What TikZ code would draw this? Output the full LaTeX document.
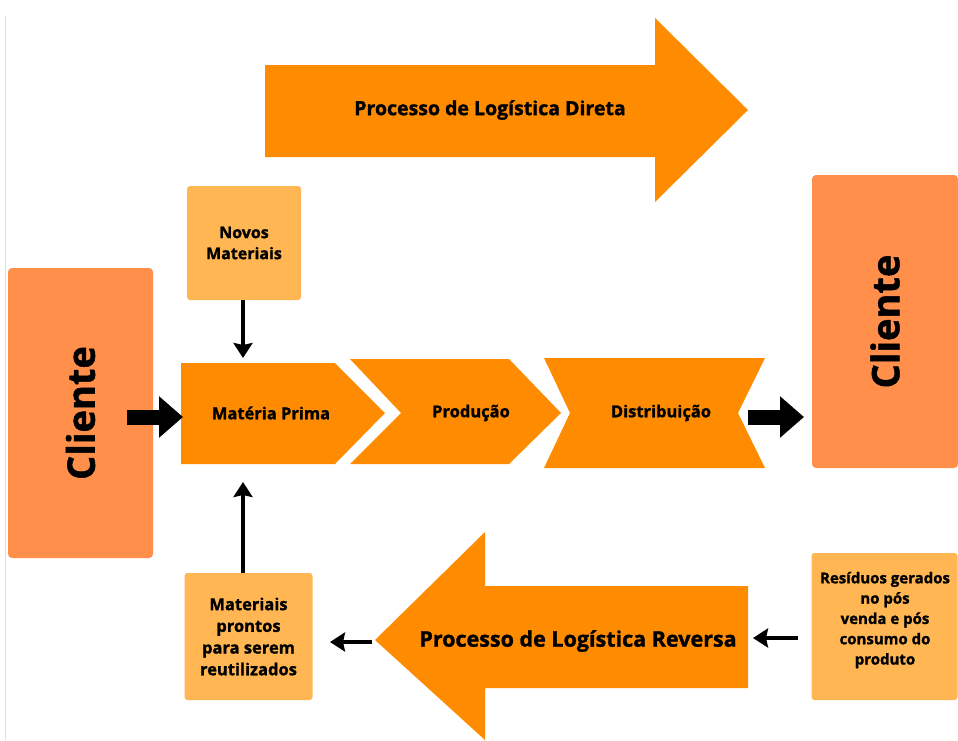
\documentclass[tikz,border=0pt]{standalone}
\usepackage{fontspec}
\setmainfont{Open Sans}[BoldFeatures={FakeBold=1.3}]
\usetikzlibrary{arrows.meta}
\definecolor{mainor}{HTML}{FF8C00}
\definecolor{lightor}{HTML}{FFB653}
\definecolor{clior}{HTML}{FF8F4B}
\tikzset{
  lbox/.style={fill=lightor, rounded corners=3pt, draw=none, inner sep=0pt, align=center, font=\bfseries\fontsize{16}{21}\selectfont},
  clibox/.style={fill=clior, rounded corners=4pt, draw=none, inner sep=0pt},
  clitext/.style={font=\bfseries\fontsize{38}{44}\selectfont, rotate=90, inner sep=0pt},
  shapefill/.style={fill=mainor, draw=none},
  lbl/.style={font=\bfseries\fontsize{16.5}{20}\selectfont, inner sep=0pt},
  thin arrow/.style={line width=3.6pt, -{Stealth[length=15pt,width=19pt,inset=2pt]}},
  thick arrow/.style={line width=15pt, -{Triangle[length=24pt,width=40pt]}},
}
\begin{document}
\begin{tikzpicture}[x=1pt,y=-1pt]
\useasboundingbox (0,0) rectangle (958,740);
\draw[black!12, line width=1pt] (5,16) -- (5,740);
% top arrow
\fill[shapefill] (265,65) -- (655,65) -- (655,18) -- (748,110) -- (655,202) -- (655,157) -- (265,157) -- cycle;
\node[lbl, font=\bfseries\fontsize{19.5}{22}\selectfont] (direta) at (490,110) {Processo de Logística Direta};
% reverse arrow
\fill[shapefill] (748,586) -- (485,586) -- (485,532) -- (375,640) -- (485,740) -- (485,688) -- (748,688) -- cycle;
\node[lbl, font=\bfseries\fontsize{21.5}{24}\selectfont] (reversa) at (578,641) {Processo de Logística Reversa};
% clientes
\node[clibox, minimum width=145pt, minimum height=290pt] (cl1) at (80.5,413) {};
\node[clitext] (cl1t) at (cl1.center) {Cliente};
\node[clibox, minimum width=146pt, minimum height=293pt] (cl2) at (885,321.5) {};
\node[clitext] (cl2t) at (cl2.center) {Cliente};
% process chevrons
\fill[shapefill] (181,363) -- (335,363) -- (385,413) -- (335,464) -- (181,464) -- cycle;
\node[lbl] (mp) at (271,413) {Matéria Prima};
\fill[shapefill] (350,359) -- (509,359) -- (561,413) -- (509,464) -- (350,464) -- (401,413) -- cycle;
\node[lbl] (prod) at (471,413) {Produção};
\fill[shapefill] (544,358) -- (765,358) -- (738,413) -- (765,468) -- (544,468) -- (570,413) -- cycle;
\node[lbl] (dist) at (661,413) {Distribuição};
% boxes
\node[lbox, minimum width=114pt, minimum height=114pt] (novos) at (244,243) {Novos\\Materiais};
\node[lbox, minimum width=128pt, minimum height=127pt, font=\bfseries\fontsize{16.5}{21.7}\selectfont] (prontos) at (248.5,636.5) {Materiais\\prontos\\para serem\\reutilizados};
\node[lbox, minimum width=146pt, minimum height=147pt] (resid) at (884.5,626.5) {};
\node[font=\bfseries\fontsize{15}{20.3}\selectfont, align=center, inner sep=0pt] (residt) at (885,620) {Resíduos gerados\\no pós\\venda e pós\\consumo do\\produto};
% coordinates
\coordinate (mptop) at (243,358);
\coordinate (mpbot) at (243,482);
\coordinate (mpleft) at (183,417);
\coordinate (cl1out) at (127,417);
\coordinate (distout) at (748,417);
\coordinate (cl2in) at (804,417);
\coordinate (revtail) at (372,642);
\coordinate (prontosin) at (330,642);
\coordinate (residout) at (798,638);
\coordinate (revhead) at (753,638);
% connectors
\draw[thin arrow] (novos.south -| mptop) -- (mptop);
\draw[thin arrow] (prontos.north -| mpbot) -- (mpbot);
\draw[thin arrow] (revtail) -- (prontosin);
\draw[thin arrow] (residout) -- (revhead);
\draw[thick arrow] (cl1out) -- (mpleft);
\draw[thick arrow] (distout) -- (cl2in);
\end{tikzpicture}
\end{document}
